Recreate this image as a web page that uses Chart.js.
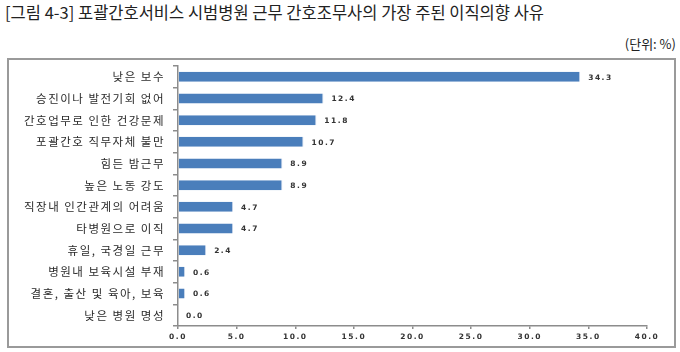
<!DOCTYPE html>
<html>
<head>
<meta charset="utf-8">
<script src="https://cdn.jsdelivr.net/npm/chart.js@4"></script>
<style>
  body { margin: 0; background: #fff; width: 680px; height: 352px; position: relative; overflow: hidden; }
  #title { position: absolute; left: 5px; top: 0px; font: 16.5px "Noto Sans CJK KR"; color: #222; white-space: nowrap; }
  #unit { position: absolute; right: 4px; top: 34px; font: 13px "Noto Sans CJK KR"; color: #222; }
  #box { position: absolute; left: 7px; top: 58px; width: 665px; height: 286px; border: 2px solid #9a9a9a; }
  #chart { position: absolute; left: 0; top: 0; }
</style>
</head>
<body>
<div id="title">[그림 4-3] 포괄간호서비스 시범병원 근무 간호조무사의 가장 주된 이직의향 사유</div>
<div id="unit">(단위: %)</div>
<div id="box"></div>
<canvas id="chart" width="680" height="352"></canvas>
<script>
const reasons = [
  "낮은 보수",
  "승진이나 발전기회 없어",
  "간호업무로 인한 건강문제",
  "포괄간호 직무자체 불만",
  "힘든 밤근무",
  "높은 노동 강도",
  "직장내 인간관계의 어려움",
  "타병원으로 이직",
  "휴일, 국경일 근무",
  "병원내 보육시설 부재",
  "결혼, 출산 및 육아, 보육",
  "낮은 병원 명성"
];
const shares = [34.3, 12.4, 11.8, 10.7, 8.9, 8.9, 4.7, 4.7, 2.4, 0.6, 0.6, 0.0];
const xTicks = [0, 5, 10, 15, 20, 25, 30, 35, 40];

// wide Korean label look: letter spacing for axis text
const spacing = {
  id: "spacing",
  beforeDraw(chart) { chart.ctx.letterSpacing = "1.5px"; },
  afterDraw(chart) { chart.ctx.letterSpacing = "0px"; }
};

// value labels right of each bar
const valueLabels = {
  id: "valueLabels",
  afterDatasetsDraw(chart) {
    const ctx = chart.ctx;
    const meta = chart.getDatasetMeta(0);
    ctx.save();
    ctx.letterSpacing = "1.5px";
    ctx.font = "bold 7.5px 'DejaVu Sans'";
    ctx.fillStyle = "#333";
    ctx.textBaseline = "middle";
    meta.data.forEach((bar, i) => {
      ctx.fillText(shares[i].toFixed(1), bar.x + 8, bar.y + 1);
    });
    ctx.restore();
  }
};

new Chart(document.getElementById("chart"), {
  type: "bar",
  data: {
    labels: reasons,
    datasets: [{
      data: shares,
      backgroundColor: "#4a7ebb",
      borderColor: "#c8d6ea",
      borderWidth: { right: 1, top: 0, bottom: 0, left: 0 },
      categoryPercentage: 1,
      barPercentage: 0.46
    }]
  },
  options: {
    indexAxis: "y",
    responsive: false,
    animation: false,
    layout: { padding: { left: 10, right: 33, top: 66, bottom: 0 } },
    plugins: { legend: { display: false }, tooltip: { enabled: false } },
    scales: {
      x: {
        min: 0,
        max: 40,
        afterBuildTicks: (scale) => { scale.ticks = xTicks.map((v) => ({ value: v })); },
        afterFit: (scale) => { scale.height = 26; },
        border: { color: "#8c8c8c", width: 1.5 },
        grid: { drawOnChartArea: false, color: "#8c8c8c", tickLength: 3, lineWidth: 1.5 },
        ticks: {
          padding: 4,
          maxRotation: 0,
          color: "#333",
          font: { family: "DejaVu Sans", size: 7.5, weight: "bold" },
          callback: (v) => Number(v).toFixed(1)
        }
      },
      y: {
        afterFit: (scale) => { scale.width = 168; },
        border: { color: "#8c8c8c", width: 1.5 },
        grid: { drawOnChartArea: false, offset: true, color: "#8c8c8c", tickLength: 5, lineWidth: 1.5 },
        ticks: {
          padding: 8,
          autoSkip: false,
          color: "#2a2a2a",
          font: { family: "Noto Sans CJK KR", size: 11.5 }
        }
      }
    }
  },
  plugins: [spacing, valueLabels]
});
</script>
</body>
</html>
